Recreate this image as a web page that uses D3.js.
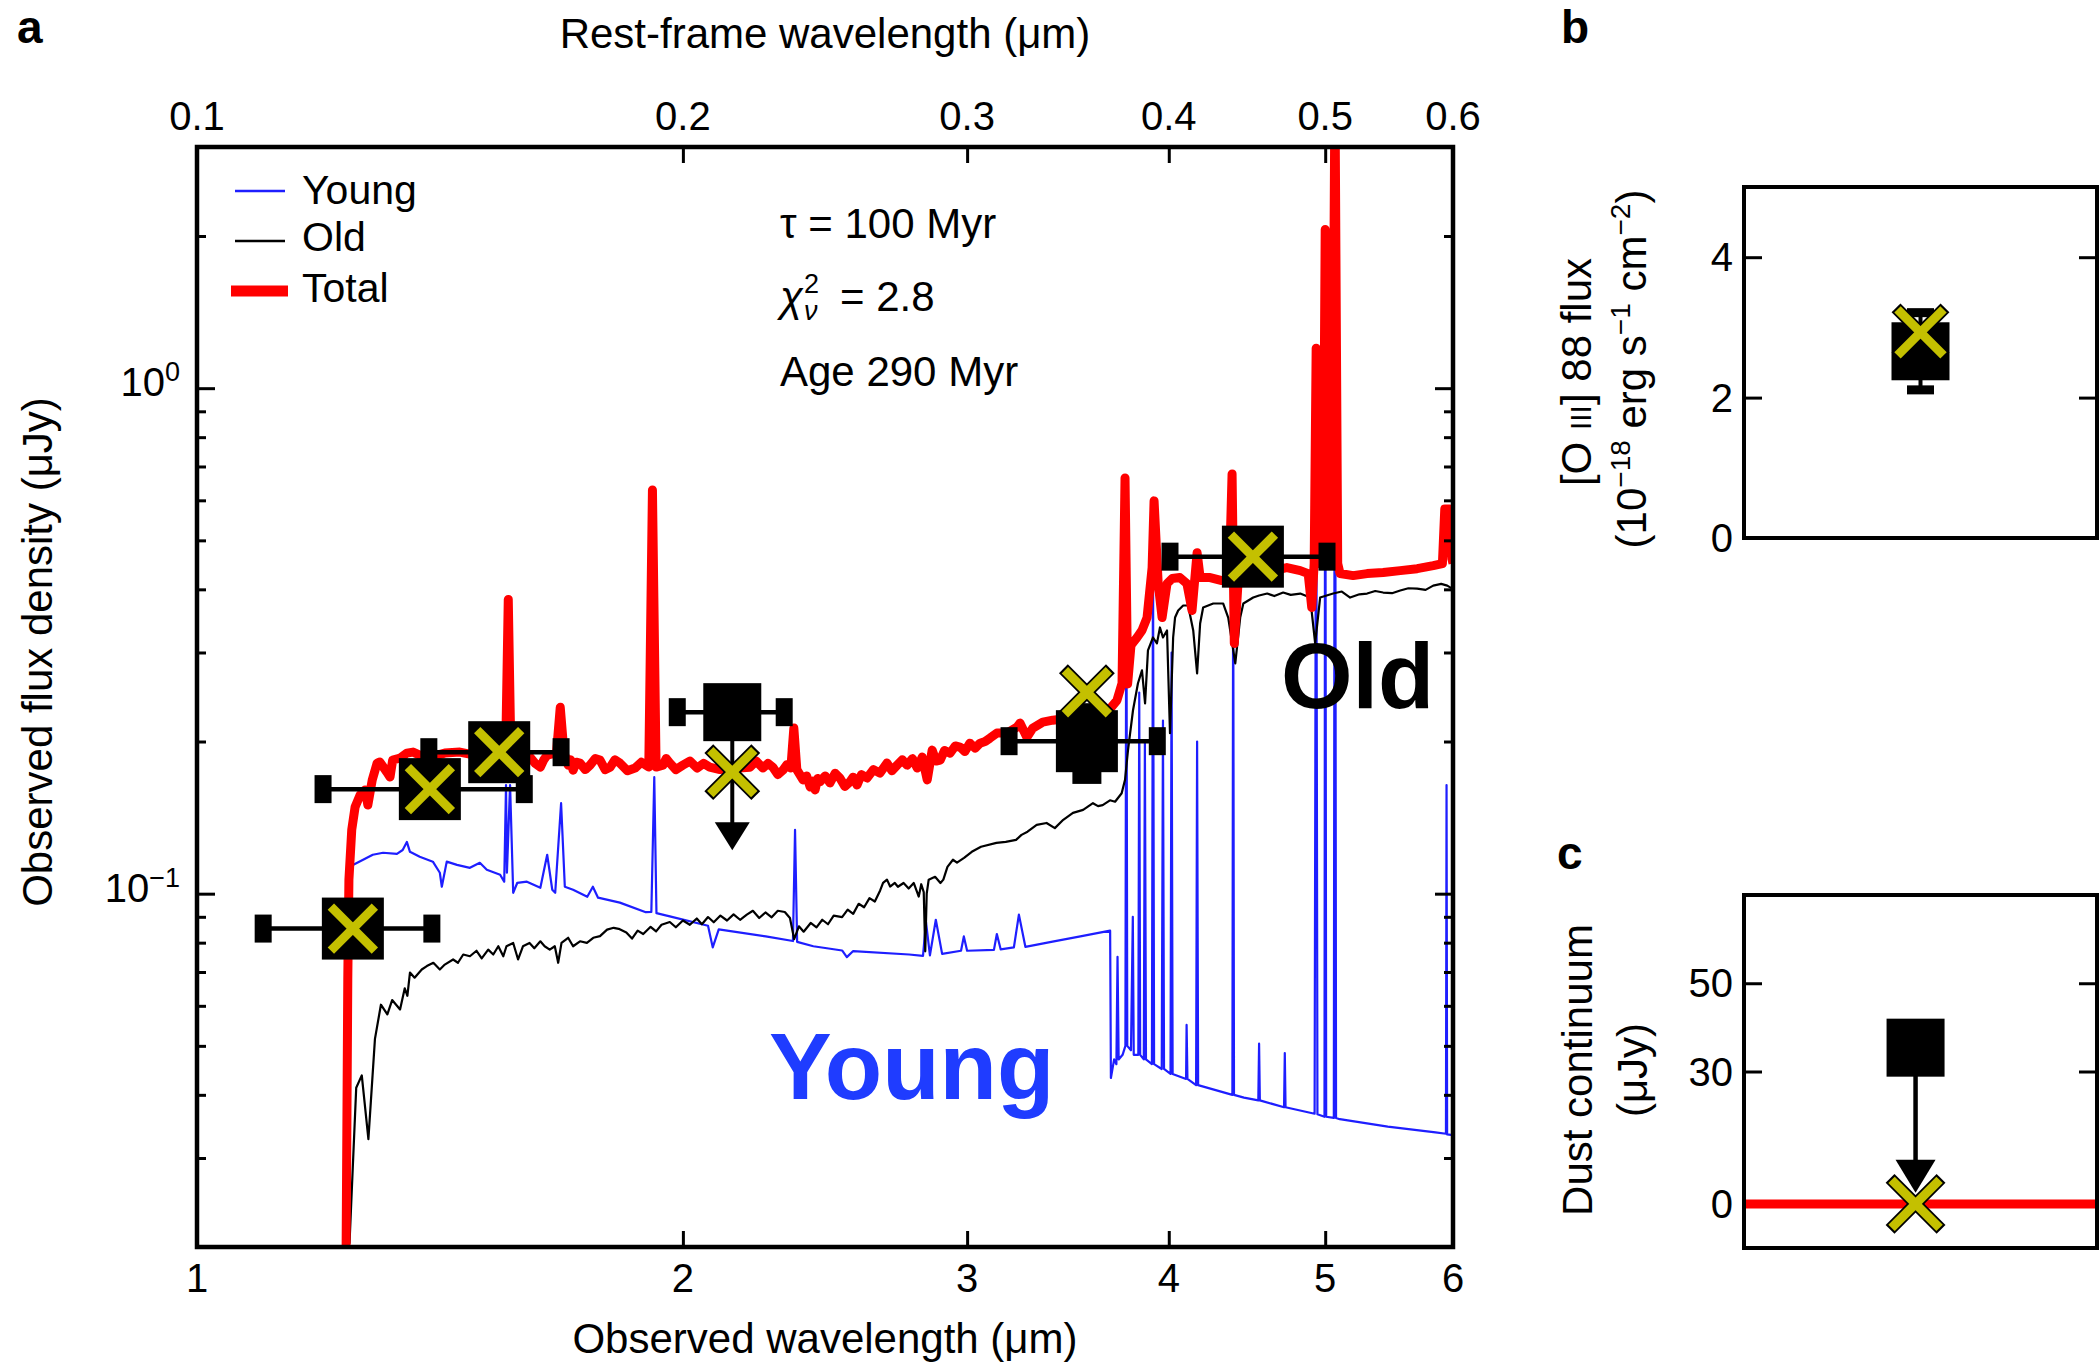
<!DOCTYPE html>
<html><head><meta charset="utf-8">
<script src="https://cdn.jsdelivr.net/npm/d3@7"></script>
<style>
html,body{margin:0;padding:0;background:#fff;}
svg{display:block;background:#fff;}
text{font-family:"Liberation Sans", Arial, Helvetica, sans-serif;fill:#000;}
</style></head><body>
<svg id="chart" width="2100" height="1366"></svg>
<script>
// ---------------- DATA ----------------
// Observed wavelength (um), flux density (uJy)
const youngSpec = [
[1.238,0.019],[1.243,0.113],[1.285,0.1194],[1.304,0.1205],[1.330,0.1199],[1.341,0.122],[1.349,0.1266],[1.355,0.121],[1.374,0.1183],[1.400,0.1157],[1.414,0.110],[1.418,0.1032],[1.428,0.1157],[1.449,0.114],[1.476,0.1125],[1.497,0.1151],[1.512,0.1115],[1.541,0.109],[1.550,0.1056],[1.554,0.164],[1.556,0.110],[1.563,0.164],[1.570,0.1004],[1.579,0.105],[1.601,0.1056],[1.632,0.1027],[1.648,0.1194],[1.660,0.1018],[1.667,0.1004],[1.681,0.151],[1.690,0.1032],[1.710,0.1018],[1.745,0.0986],[1.759,0.1032],[1.772,0.0982],[1.828,0.096],[1.897,0.0919],[1.912,0.092],[1.920,0.17],[1.926,0.0915],[1.963,0.0902],[2.073,0.0864],[2.087,0.0783],[2.105,0.085],[2.251,0.0823],[2.340,0.0806],[2.347,0.1337],[2.354,0.0803],[2.409,0.0787],[2.51,0.0772],[2.527,0.0749],[2.55,0.077],[2.762,0.0758],[2.817,0.0753],[2.829,0.0879],[2.845,0.0755],[2.869,0.0888],[2.895,0.076],[2.974,0.0771],[2.986,0.0823],[3.0,0.0771],[3.117,0.0774],[3.13,0.0832],[3.147,0.0776],[3.207,0.0783],[3.23,0.0909],[3.26,0.0785],[3.389,0.0804],[3.526,0.0823],[3.679,0.0845],
[3.683,0.0432],[3.70,0.047],[3.712,0.046],[3.718,0.075],[3.724,0.047],[3.745,0.048],[3.760,0.05],[3.765,0.55],[3.770,0.05],[3.79,0.049],[3.80,0.09],[3.805,0.048],[3.83,0.048],[3.835,0.25],[3.84,0.048],[3.86,0.047],[3.866,0.2],[3.872,0.047],[3.905,0.046],[3.911,0.5],[3.917,0.046],[3.96,0.045],[3.967,0.22],[3.973,0.045],[4.01,0.044],[4.016,0.3],[4.022,0.044],[4.10,0.043],[4.103,0.055],[4.108,0.043],[4.159,0.0418],[4.165,0.2],[4.171,0.0418],[4.38,0.040],[4.385,0.5],[4.39,0.040],[4.453,0.0395],[4.545,0.039],[4.55,0.0505],[4.555,0.039],[4.715,0.0378],[4.72,0.0484],[4.725,0.0378],[4.925,0.0367],[4.936,1.1],[4.945,0.0366],[4.995,0.0362],[5.0,2.0],[5.007,0.0362],[5.062,0.036],[5.07,3.5],[5.078,0.036],[5.105,0.0358],[5.467,0.0346],[5.852,0.0337],[5.94,0.0335],[5.945,0.164],[5.95,0.0334],[6.0,0.0333]
];
const oldSpec = [
[1.243,0.0203],[1.255,0.0413],[1.265,0.0437],[1.277,0.0327],[1.289,0.0516],[1.300,0.0603],[1.312,0.0577],[1.321,0.0616],[1.336,0.059],[1.345,0.065],[1.350,0.0628],[1.355,0.0698],[1.364,0.0682],[1.378,0.0708],[1.388,0.0719],[1.401,0.073],[1.414,0.0708],[1.424,0.0724],[1.441,0.0741],[1.451,0.073],[1.462,0.0758],[1.476,0.0752],[1.490,0.0771],[1.501,0.0745],[1.515,0.0775],[1.526,0.0758],[1.537,0.0787],[1.548,0.0752],[1.555,0.0787],[1.570,0.0799],[1.581,0.0741],[1.592,0.0787],[1.607,0.0799],[1.618,0.078],[1.632,0.0805],[1.642,0.0787],[1.654,0.0775],[1.666,0.0787],[1.674,0.073],[1.682,0.0799],[1.698,0.0818],[1.710,0.0787],[1.727,0.0805],[1.744,0.0799],[1.760,0.0818],[1.777,0.0824],[1.795,0.0849],[1.812,0.0856],[1.825,0.0852],
[1.845,0.0838],[1.86,0.0815],[1.875,0.0845],[1.89,0.0832],[1.91,0.086],[1.925,0.0842],[1.94,0.0868],[1.963,0.0879],[1.98,0.0858],[2.0,0.0885],[2.02,0.0868],[2.04,0.0893],[2.055,0.087],[2.073,0.0899],[2.09,0.0878],[2.11,0.0905],[2.13,0.0885],[2.15,0.091],[2.17,0.0888],[2.191,0.0909],[2.21,0.0925],[2.23,0.0895],[2.25,0.0918],[2.27,0.0898],[2.29,0.0925],[2.313,0.092],[2.33,0.0895],[2.344,0.0813],[2.36,0.0862],[2.376,0.0841],[2.40,0.0875],[2.42,0.0858],[2.44,0.0888],[2.46,0.087],[2.48,0.0905],[2.51,0.0899],[2.53,0.093],[2.55,0.0912],[2.57,0.0955],[2.59,0.094],[2.61,0.098],[2.63,0.0965],[2.65,0.1015],
[2.661,0.105],[2.676,0.1066],[2.688,0.1033],[2.706,0.105],[2.718,0.1032],[2.74,0.105],[2.76,0.1024],[2.78,0.105],[2.80,0.0987],[2.81,0.1044],[2.82,0.1007],[2.826,0.0769],[2.832,0.1],[2.84,0.1066],[2.866,0.108],[2.888,0.105],[2.9,0.1066],[2.917,0.113],[2.94,0.1167],[2.957,0.1152],[2.987,0.1177],[3.02,0.121],[3.06,0.1238],[3.128,0.126],[3.17,0.1266],[3.217,0.1278],[3.242,0.1307],[3.27,0.1326],[3.313,0.1368],[3.36,0.138],[3.40,0.1348],[3.441,0.140],[3.489,0.1445],[3.54,0.1465],[3.59,0.151],[3.616,0.149],[3.64,0.1497],[3.678,0.153],[3.705,0.152],[3.74,0.158],[3.758,0.168],[3.774,0.1923],[3.801,0.2306],[3.828,0.2608],[3.85,0.2765],[3.867,0.238],[3.883,0.3029],[3.911,0.3212],[3.933,0.3127],[3.95,0.3362],[3.967,0.3212],[3.99,0.3317],[4.007,0.2078],[4.025,0.3212],[4.036,0.3518],[4.054,0.3633],[4.083,0.3716],[4.112,0.3716],[4.142,0.3317],[4.165,0.2728],[4.183,0.3424],[4.201,0.3682],[4.262,0.375],[4.323,0.375],[4.354,0.3518],[4.398,0.2855],[4.429,0.3518],[4.449,0.375],[4.512,0.3853],[4.55,0.389],[4.603,0.3924],[4.65,0.388],[4.709,0.3942],[4.76,0.39],[4.825,0.3924],[4.894,0.3853],[4.929,0.3127],[4.964,0.3853],[5.057,0.3924],[5.12,0.396],[5.181,0.3853],[5.25,0.391],[5.308,0.3924],[5.37,0.397],[5.431,0.3942],[5.5,0.393],[5.565,0.3978],[5.63,0.402],[5.701,0.4014],[5.77,0.399],[5.833,0.4069],[5.9,0.41],[5.951,0.4069],[5.993,0.4014]
];
const totalSpec = [
[1.237,0.0195],[1.240,0.0677],[1.242,0.1066],[1.247,0.1337],[1.253,0.1484],[1.262,0.1568],[1.271,0.1604],[1.276,0.1498],[1.284,0.1679],[1.293,0.1813],[1.298,0.1822],[1.311,0.174],[1.317,0.1701],[1.322,0.1838],[1.336,0.1855],[1.349,0.1897],[1.361,0.1906],[1.374,0.188],[1.394,0.1863],[1.424,0.1897],[1.455,0.1906],[1.486,0.188],[1.519,0.1863],[1.553,0.186],[1.559,0.382],[1.565,0.186],[1.585,0.182],[1.608,0.1863],[1.62,0.181],[1.632,0.1779],[1.64,0.184],[1.648,0.188],[1.670,0.19],[1.679,0.2337],[1.688,0.19],[1.698,0.1796],[1.704,0.184],[1.710,0.1755],[1.718,0.182],[1.727,0.1813],[1.74,0.176],[1.752,0.1796],[1.765,0.185],[1.777,0.1838],[1.79,0.176],[1.803,0.1779],[1.815,0.184],[1.828,0.1813],[1.848,0.175],[1.868,0.1772],[1.885,0.182],[1.905,0.178],[1.915,0.629],[1.925,0.178],[1.944,0.1796],[1.953,0.185],[1.963,0.1813],[1.98,0.176],[2.000,0.1796],[2.02,0.183],[2.041,0.1772],[2.06,0.181],[2.078,0.178],[2.109,0.176],[2.155,0.177],[2.201,0.1779],[2.22,0.183],[2.242,0.1772],[2.258,0.181],[2.274,0.1779],[2.29,0.172],[2.307,0.1755],[2.32,0.18],[2.333,0.1772],[2.343,0.2126],[2.353,0.176],[2.374,0.1679],[2.386,0.171],[2.398,0.1626],[2.407,0.167],[2.415,0.1604],[2.424,0.169],[2.432,0.1664],[2.45,0.171],[2.467,0.1656],[2.485,0.173],[2.502,0.1694],[2.52,0.163],[2.538,0.1664],[2.55,0.17],[2.564,0.164],[2.58,0.172],[2.601,0.1694],[2.625,0.176],[2.649,0.1732],[2.676,0.1813],[2.695,0.175],[2.715,0.1796],[2.735,0.184],[2.754,0.1796],[2.775,0.185],[2.794,0.1772],[2.814,0.1863],[2.834,0.1679],[2.854,0.1923],[2.87,0.183],[2.887,0.1838],[2.905,0.192],[2.928,0.1897],[2.95,0.196],[2.97,0.195],[2.99,0.191],[3.012,0.1985],[3.035,0.194],[3.056,0.1985],[3.078,0.2],[3.099,0.203],[3.13,0.2078],[3.175,0.2078],[3.221,0.2135],[3.235,0.2175],[3.267,0.204],[3.295,0.2126],[3.342,0.2185],[3.39,0.2204],[3.449,0.222],[3.524,0.225],[3.6,0.228],[3.678,0.232],[3.715,0.2413],[3.742,0.2608],[3.758,0.6645],[3.772,0.26],[3.79,0.31],[3.823,0.3212],[3.85,0.3317],[3.878,0.3518],[3.906,0.4416],[3.917,0.5985],[3.94,0.4106],[3.962,0.3518],[3.99,0.4106],[4.019,0.4201],[4.064,0.422],[4.105,0.4106],[4.135,0.3633],[4.165,0.4727],[4.183,0.422],[4.243,0.422],[4.315,0.4163],[4.36,0.4163],[4.378,0.6767],[4.392,0.3127],[4.415,0.4106],[4.473,0.422],[4.556,0.43],[4.734,0.4416],[4.825,0.4356],[4.88,0.4297],[4.905,0.3682],[4.922,0.45],[4.936,1.2],[4.95,0.45],[4.985,0.45],[5.0,2.06],[5.018,0.45],[5.05,0.45],[5.07,4.0],[5.09,0.45],[5.107,0.43],[5.203,0.4258],[5.308,0.4297],[5.431,0.4317],[5.565,0.4356],[5.701,0.4395],[5.833,0.4455],[5.91,0.4496],[5.93,0.577],[5.97,0.577],[5.99,0.46],[6.0,0.45]
];

// Photometry (panel a)
const photWave  = [1.249, 1.394, 1.539, 2.146, 3.559, 4.51];
const photLo    = [1.099, 1.197, 1.392, 1.984, 3.185, 4.007];
const photHi    = [1.398, 1.595, 1.681, 2.311, 3.935, 5.013];
const photFlux  = [0.0853, 0.161, 0.1905, 0.2286, 0.2003, 0.4642];
const photFluxLo = [null, null, null, null, 0.171, null];
const photFluxHi = [null, null, null, null, 0.2296, null];
const photUpper = [false, false, false, true, false, false];
const modelFlux = [0.0853, 0.161, 0.1905, 0.174, 0.2503, 0.4642];

// Panel b: [O III] 88 flux
const oiiiObs = [2.66];
const oiiiLo = [2.11];
const oiiiHi = [3.21];
const oiiiModel = [2.93];
// Panel c: dust continuum
const dustUpper = [35.4];
const dustArrowTip = [2.5];
const dustModel = [0];

// Tick values
const xTicksObs = [1, 2, 3, 4, 5, 6];
const xTicksRest = [0.1, 0.2, 0.3, 0.4, 0.5, 0.6];
const yMajor = [0.1, 1];
const yMinor = [0.02,0.03,0.04,0.05,0.06,0.07,0.08,0.09,0.2,0.3,0.4,0.5,0.6,0.7,0.8,0.9,2,3];
const bTicks = [0, 2, 4];
const cTicks = [0, 30, 50];

// ---------------- STYLE ----------------
const BLUE = "#1e1eff", RED = "#ff0000", XYEL = "#c4c000";
const svg = d3.select("#chart");

// ---------------- PANEL A ----------------
const A = {l:197, r:1453, t:147, b:1247};
const x = d3.scaleLog().domain([1, 6]).range([A.l, A.r]);
const xRest = d3.scaleLog().domain([0.1, 0.6]).range([A.l, A.r]);
const y = d3.scaleLog().domain([0.02, 3]).range([A.b, A.t]);

svg.append("defs").append("clipPath").attr("id","clipA")
  .append("rect").attr("x",A.l).attr("y",A.t).attr("width",A.r-A.l).attr("height",A.b-A.t);

const line = d3.line().x(d=>x(d[0])).y(d=>y(d[1]));
const gLines = svg.append("g").attr("clip-path","url(#clipA)");
gLines.append("path").datum(youngSpec).attr("d",line).attr("fill","none").attr("stroke",BLUE).attr("stroke-width",2.2).attr("stroke-linejoin","round");
gLines.append("path").datum(oldSpec).attr("d",line).attr("fill","none").attr("stroke","#000").attr("stroke-width",2.2).attr("stroke-linejoin","round");
gLines.append("path").datum(totalSpec).attr("d",line).attr("fill","none").attr("stroke",RED).attr("stroke-width",9).attr("stroke-linejoin","round").attr("stroke-linecap","butt");

// axes ticks
function axisTicks(g){ g.select(".domain").remove(); g.selectAll("line").attr("stroke","#000").attr("stroke-width",3); }
svg.append("g").attr("transform",`translate(0,${A.b})`).call(d3.axisBottom(x).tickValues(xTicksObs).tickSize(-16).tickFormat("")).call(axisTicks);
svg.append("g").attr("transform",`translate(0,${A.t})`).call(d3.axisTop(xRest).tickValues(xTicksRest).tickSize(-16).tickFormat("")).call(axisTicks);
svg.append("g").attr("transform",`translate(${A.l},0)`).call(d3.axisLeft(y).tickValues(yMajor).tickSize(-18).tickFormat("")).call(axisTicks);
svg.append("g").attr("transform",`translate(${A.l},0)`).call(d3.axisLeft(y).tickValues(yMinor).tickSize(-9).tickFormat("")).call(axisTicks);
svg.append("g").attr("transform",`translate(${A.r},0)`).call(d3.axisRight(y).tickValues(yMajor).tickSize(-18).tickFormat("")).call(axisTicks);
svg.append("g").attr("transform",`translate(${A.r},0)`).call(d3.axisRight(y).tickValues(yMinor).tickSize(-9).tickFormat("")).call(axisTicks);

// frame
svg.append("rect").attr("x",A.l).attr("y",A.t).attr("width",A.r-A.l).attr("height",A.b-A.t)
  .attr("fill","none").attr("stroke","#000").attr("stroke-width",4.5);

// tick labels
svg.append("g").selectAll("text").data(xTicksObs).join("text")
  .attr("x",d=>x(d)).attr("y",1292).attr("text-anchor","middle").attr("font-size",40).text(d=>d);
svg.append("g").selectAll("text").data(xTicksRest).join("text")
  .attr("x",d=>xRest(d)).attr("y",130).attr("text-anchor","middle").attr("font-size",40).text(d=>d3.format(".1f")(d));
const yl = svg.append("g").selectAll("text").data(yMajor).join("text")
  .attr("x",180).attr("y",d=>y(d)+8).attr("text-anchor","end").attr("font-size",40);
yl.append("tspan").text("10");
yl.append("tspan").attr("font-size",27).attr("dy",-15).text(d=>{const e=Math.round(Math.log10(d)); return e<0?"\u2212"+(-e):String(e);});

// axis titles
svg.append("text").attr("x",(A.l+A.r)/2).attr("y",48).attr("text-anchor","middle").attr("font-size",42).text("Rest-frame wavelength (\u03bcm)");
svg.append("text").attr("x",(A.l+A.r)/2).attr("y",1353).attr("text-anchor","middle").attr("font-size",42).text("Observed wavelength (\u03bcm)");
svg.append("text").attr("transform","translate(52,652) rotate(-90)").attr("text-anchor","middle").attr("font-size",42).text("Observed flux density (\u03bcJy)");

// panel letters
svg.append("text").attr("x",17).attr("y",43).attr("font-size",46).attr("font-weight","bold").text("a");
svg.append("text").attr("x",1561).attr("y",43).attr("font-size",46).attr("font-weight","bold").text("b");
svg.append("text").attr("x",1557).attr("y",869).attr("font-size",46).attr("font-weight","bold").text("c");

// legend
const legendItems = [
  {label:"Young", color:BLUE, w:2.5, y:191, ty:204},
  {label:"Old", color:"#000", w:2.5, y:241, ty:251},
  {label:"Total", color:RED, w:11, y:291, ty:302}
];
const lg = svg.append("g");
lg.selectAll("line").data(legendItems).join("line")
  .attr("x1",d=>d.w>5?231:235).attr("x2",d=>d.w>5?288:285).attr("y1",d=>d.y).attr("y2",d=>d.y)
  .attr("stroke",d=>d.color).attr("stroke-width",d=>d.w);
lg.selectAll("text").data(legendItems).join("text")
  .attr("x",302).attr("y",d=>d.ty).attr("font-size",41).text(d=>d.label);

// annotations
svg.append("text").attr("x",780).attr("y",238).attr("font-size",42).text("\u03c4 = 100 Myr");
const chi = svg.append("text").attr("x",780).attr("y",311).attr("font-size",42).attr("font-style","italic").text("\u03c7");
const chiW = chi.node().getComputedTextLength();
svg.append("text").attr("x",780+chiW+1).attr("y",311-18).attr("font-size",27).text("2");
svg.append("text").attr("x",780+chiW+1).attr("y",311+9).attr("font-size",27).attr("font-style","italic").text("\u03bd");
svg.append("text").attr("x",840).attr("y",311).attr("font-size",42).text("= 2.8");
svg.append("text").attr("x",780).attr("y",386).attr("font-size",42).text("Age 290 Myr");

// big labels
svg.append("text").attr("x",769).attr("y",1099).attr("font-size",94).attr("font-weight","bold").style("fill","#1f3cff").text("Young");
svg.append("text").attr("x",1281).attr("y",708).attr("font-size",92).attr("font-weight","bold").text("Old");

// photometry
const phot = photWave.map((w,i)=>({w, lo:photLo[i], hi:photHi[i], f:photFlux[i], flo:photFluxLo[i], fhi:photFluxHi[i], ul:photUpper[i], m:modelFlux[i]}));
const gp = svg.append("g");
gp.selectAll(".xe").data(phot).join("line").attr("class","xe")
  .attr("x1",d=>x(d.lo)).attr("x2",d=>x(d.hi)).attr("y1",d=>y(d.f)).attr("y2",d=>y(d.f))
  .attr("stroke","#000").attr("stroke-width",4.5);
gp.selectAll(".capl").data(phot).join("rect").attr("class","capl")
  .attr("x",d=>x(d.lo)-8.5).attr("y",d=>y(d.f)-14).attr("width",17).attr("height",28).attr("fill","#000");
gp.selectAll(".capr").data(phot).join("rect").attr("class","capr")
  .attr("x",d=>x(d.hi)-8.5).attr("y",d=>y(d.f)-14).attr("width",17).attr("height",28).attr("fill","#000");
const pyerr = phot.filter(d=>d.flo!==null);
gp.selectAll(".ye").data(pyerr).join("line").attr("class","ye")
  .attr("x1",d=>x(d.w)).attr("x2",d=>x(d.w)).attr("y1",d=>y(d.flo)).attr("y2",d=>y(d.fhi))
  .attr("stroke","#000").attr("stroke-width",4.5);
gp.selectAll(".capb").data(pyerr).join("rect").attr("class","capb")
  .attr("x",d=>x(d.w)-14.5).attr("y",d=>y(d.flo)-8).attr("width",29).attr("height",16).attr("fill","#000");
gp.selectAll(".capt").data(pyerr).join("rect").attr("class","capt")
  .attr("x",d=>x(d.w)-14.5).attr("y",d=>y(d.fhi)-8).attr("width",29).attr("height",16).attr("fill","#000");
const pul = phot.filter(d=>d.ul);
const ULLEN = 138;
gp.selectAll(".ula").data(pul).join("line").attr("class","ula")
  .attr("x1",d=>x(d.w)).attr("x2",d=>x(d.w)).attr("y1",d=>y(d.f)).attr("y2",d=>y(d.f)+ULLEN-26)
  .attr("stroke","#000").attr("stroke-width",4);
gp.selectAll(".ulh").data(pul).join("path").attr("class","ulh")
  .attr("d",d=>{const cx=x(d.w), ty=y(d.f)+ULLEN; return `M${cx-17.5},${ty-28}L${cx+17.5},${ty-28}L${cx},${ty}Z`;})
  .attr("fill","#000");
gp.selectAll(".sq").data(phot).join("rect").attr("class","sq")
  .attr("x",d=>x(d.w)-(d.ul?29:31)).attr("y",d=>y(d.f)-(d.ul?29:31))
  .attr("width",d=>d.ul?58:62).attr("height",d=>d.ul?58:62).attr("fill","#000");

function drawX(g, data, cx, cy, h){
  const segs = [];
  data.forEach(d=>{ const X=cx(d), Y=cy(d); segs.push([X,Y,1],[X,Y,-1]); });
  g.selectAll(null).data(segs).join("line")
    .attr("x1",s=>s[0]-(h+1.5)).attr("x2",s=>s[0]+(h+1.5))
    .attr("y1",s=>s[1]-s[2]*(h+1.5)).attr("y2",s=>s[1]+s[2]*(h+1.5))
    .attr("stroke","#000").attr("stroke-width",12.5);
  g.selectAll(null).data(segs).join("line")
    .attr("x1",s=>s[0]-h).attr("x2",s=>s[0]+h)
    .attr("y1",s=>s[1]-s[2]*h).attr("y2",s=>s[1]+s[2]*h)
    .attr("stroke",XYEL).attr("stroke-width",9);
}
drawX(svg.append("g"), phot, d=>x(d.w), d=>y(d.m), 22);

// ---------------- PANEL B ----------------
const B = {l:1744, r:2097, t:187, b:538};
const xb = d3.scaleLinear().domain([0,1]).range([B.l,B.r]);
const yb = d3.scaleLinear().domain([0,5]).range([B.b,B.t]);
const PXB = 0.5;
svg.append("g").attr("transform",`translate(${B.l},0)`).call(d3.axisLeft(yb).tickValues(bTicks).tickSize(-18).tickFormat("")).call(axisTicks);
svg.append("g").attr("transform",`translate(${B.r},0)`).call(d3.axisRight(yb).tickValues(bTicks).tickSize(-18).tickFormat("")).call(axisTicks);
svg.append("rect").attr("x",B.l).attr("y",B.t).attr("width",B.r-B.l).attr("height",B.b-B.t).attr("fill","none").attr("stroke","#000").attr("stroke-width",4);
svg.append("g").selectAll("text").data(bTicks).join("text")
  .attr("x",1733).attr("y",d=>yb(d)+14).attr("text-anchor","end").attr("font-size",40).text(d=>d);
const gb = svg.append("g");
gb.selectAll(".e").data(oiiiObs).join("line").attr("class","e")
  .attr("x1",xb(PXB)).attr("x2",xb(PXB)).attr("y1",(d,i)=>yb(oiiiLo[i])).attr("y2",(d,i)=>yb(oiiiHi[i]))
  .attr("stroke","#000").attr("stroke-width",4);
gb.selectAll(".cl").data(oiiiLo.concat(oiiiHi)).join("rect").attr("class","cl")
  .attr("x",xb(PXB)-13.5).attr("y",d=>yb(d)-4.5).attr("width",27).attr("height",9).attr("fill","#000");
gb.selectAll(".s").data(oiiiObs).join("rect").attr("class","s")
  .attr("x",xb(PXB)-29).attr("y",d=>yb(d)-29).attr("width",58).attr("height",58).attr("fill","#000");
drawX(svg.append("g"), oiiiModel, ()=>xb(PXB), d=>yb(d), 23);
const bl1 = svg.append("text").attr("transform","translate(1591,372) rotate(-90)").attr("text-anchor","middle").attr("font-size",42);
bl1.append("tspan").text("[O ");
bl1.append("tspan").attr("font-size",30).text("III");
bl1.append("tspan").text("] 88 flux");
const bl2 = svg.append("text").attr("transform","translate(1646,369) rotate(-90)").attr("text-anchor","middle").attr("font-size",42);
bl2.append("tspan").text("(10");
bl2.append("tspan").attr("font-size",28).attr("dy",-16).text("\u221218");
bl2.append("tspan").attr("dy",16).text(" erg s");
bl2.append("tspan").attr("font-size",28).attr("dy",-16).text("\u22121");
bl2.append("tspan").attr("dy",16).text(" cm");
bl2.append("tspan").attr("font-size",28).attr("dy",-16).text("\u22122");
bl2.append("tspan").attr("dy",16).text(")");

// ---------------- PANEL C ----------------
const C = {l:1744, r:2097, t:895, b:1248};
const xc = d3.scaleLinear().domain([0,1]).range([C.l,C.r]);
const yc = d3.scaleLinear().domain([-10,70]).range([C.b,C.t]);
const PXC = 0.486;
svg.append("g").attr("transform",`translate(${C.l},0)`).call(d3.axisLeft(yc).tickValues(cTicks).tickSize(-18).tickFormat("")).call(axisTicks);
svg.append("g").attr("transform",`translate(${C.r},0)`).call(d3.axisRight(yc).tickValues(cTicks).tickSize(-18).tickFormat("")).call(axisTicks);
svg.append("g").selectAll("text").data(cTicks).join("text")
  .attr("x",1733).attr("y",d=>yc(d)+14).attr("text-anchor","end").attr("font-size",40).text(d=>d);
const gc = svg.append("g");
gc.selectAll(".m").data(dustModel).join("line").attr("class","m")
  .attr("x1",C.l).attr("x2",C.r).attr("y1",d=>yc(d)).attr("y2",d=>yc(d)).attr("stroke",RED).attr("stroke-width",9);
gc.selectAll(".a").data(dustUpper).join("line").attr("class","a")
  .attr("x1",xc(PXC)).attr("x2",xc(PXC)).attr("y1",d=>yc(d)).attr("y2",(d,i)=>yc(dustArrowTip[i])-30)
  .attr("stroke","#000").attr("stroke-width",4.5);
gc.selectAll(".h").data(dustArrowTip).join("path").attr("class","h")
  .attr("d",d=>{const cx=xc(PXC), ty=yc(d); return `M${cx-20},${ty-33}L${cx+20},${ty-33}L${cx},${ty}Z`;}).attr("fill","#000");
gc.selectAll(".s").data(dustUpper).join("rect").attr("class","s")
  .attr("x",xc(PXC)-29).attr("y",d=>yc(d)-29).attr("width",58).attr("height",58).attr("fill","#000");
drawX(svg.append("g"), dustModel, ()=>xc(PXC), d=>yc(d), 24);
svg.append("rect").attr("x",C.l).attr("y",C.t).attr("width",C.r-C.l).attr("height",C.b-C.t).attr("fill","none").attr("stroke","#000").attr("stroke-width",4);
svg.append("text").attr("transform","translate(1592,1070) rotate(-90)").attr("text-anchor","middle").attr("font-size",42).text("Dust continuum");
svg.append("text").attr("transform","translate(1647,1070) rotate(-90)").attr("text-anchor","middle").attr("font-size",42).text("(\u03bcJy)");
</script>
</body></html>
